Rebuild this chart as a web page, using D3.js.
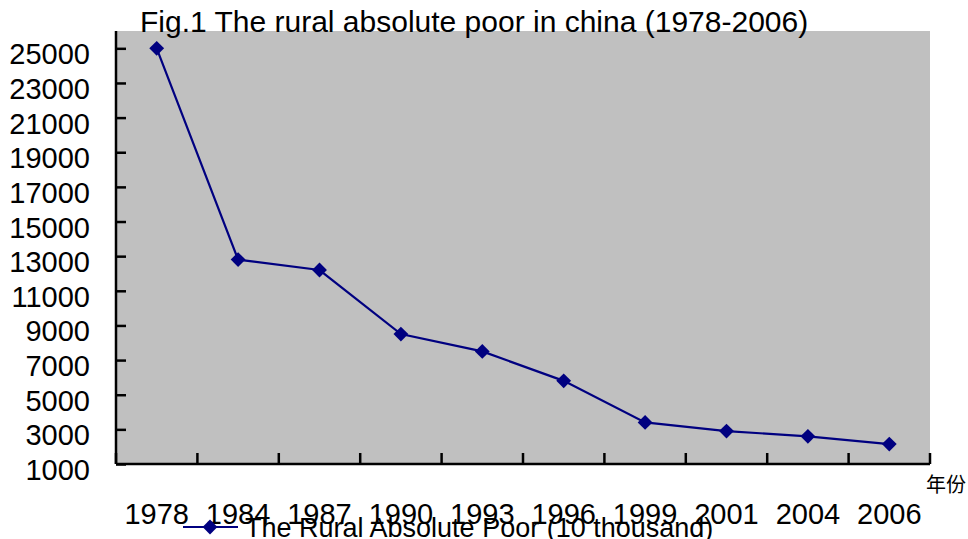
<!DOCTYPE html>
<html>
<head>
<meta charset="utf-8">
<script src="https://cdn.jsdelivr.net/npm/d3@7"></script>
<style>
  body { margin: 0; background: #fff; }
  text { font-family: "Liberation Sans", Arial, sans-serif; }
</style>
</head>
<body>
<svg id="chart" width="968" height="539"></svg>
<script>
// data
const years = ["1978", "1984", "1987", "1990", "1993", "1996", "1999", "2001", "2004", "2006"];
const poor = [25000, 12800, 12200, 8500, 7500, 5800, 3400, 2900, 2600, 2150];
const yTicks = [1000, 3000, 5000, 7000, 9000, 11000, 13000, 15000, 17000, 19000, 21000, 23000, 25000];

const svg = d3.select("#chart");
const plot = { left: 116, right: 930, top: 31, bottom: 464 };

const x = d3.scaleBand().domain(years).range([plot.left, plot.right]);
const y = d3.scaleLinear().domain([1000, 26000]).range([plot.bottom, plot.top]);

// grey plot area
svg.append("rect")
  .attr("x", plot.left)
  .attr("y", plot.top)
  .attr("width", plot.right - plot.left)
  .attr("height", plot.bottom - plot.top)
  .attr("fill", "#c0c0c0");

// title
svg.append("text")
  .attr("x", 140)
  .attr("y", 32)
  .attr("font-size", 30)
  .attr("fill", "#000")
  .text("Fig.1 The rural absolute poor in china (1978-2006)");

// y axis, ticks pointing inward
const yAxis = svg.append("g")
  .attr("transform", `translate(${plot.left},0)`)
  .call(d3.axisRight(y).tickValues(yTicks).tickSize(10).tickFormat(""));
yAxis.select(".domain").attr("d", `M0,${plot.top}V${plot.bottom}`);
yAxis.selectAll("path, line").attr("stroke", "#000").attr("stroke-width", 2.5);

svg.append("g")
  .selectAll("text")
  .data(yTicks)
  .enter()
  .append("text")
  .attr("x", 90)
  .attr("y", (d) => y(d) + 16)
  .attr("text-anchor", "end")
  .attr("font-size", 29)
  .text((d) => d);

// x axis, ticks at category boundaries pointing up
const xEdges = years.map((d) => x(d)).concat([plot.right]);
const xAxis = svg.append("g");
xAxis.append("line")
  .attr("x1", plot.left)
  .attr("x2", plot.right)
  .attr("y1", plot.bottom)
  .attr("y2", plot.bottom)
  .attr("stroke", "#000")
  .attr("stroke-width", 2.5);
xAxis.selectAll("line.tick")
  .data(xEdges)
  .enter()
  .append("line")
  .attr("class", "tick")
  .attr("x1", (d) => d)
  .attr("x2", (d) => d)
  .attr("y1", plot.bottom)
  .attr("y2", plot.bottom - 11)
  .attr("stroke", "#000")
  .attr("stroke-width", 2.5);

svg.append("g")
  .selectAll("text")
  .data(years)
  .enter()
  .append("text")
  .attr("x", (d) => x(d) + x.bandwidth() / 2)
  .attr("y", 524)
  .attr("text-anchor", "middle")
  .attr("font-size", 29)
  .text((d) => d);

svg.append("text")
  .attr("x", 966)
  .attr("y", 492)
  .attr("text-anchor", "end")
  .attr("font-size", 20)
  .style("font-family", "'Noto Sans CJK SC', sans-serif")
  .text("年份");

// series line + diamonds
const line = d3.line()
  .x((d, i) => x(years[i]) + x.bandwidth() / 2)
  .y((d) => y(d));

svg.append("path")
  .datum(poor)
  .attr("d", line)
  .attr("fill", "none")
  .attr("stroke", "#000080")
  .attr("stroke-width", 2.2);

const diamond = d3.symbol().type(d3.symbolDiamond2).size(140);
svg.append("g")
  .selectAll("path")
  .data(poor)
  .enter()
  .append("path")
  .attr("d", diamond)
  .attr("transform", (d, i) => `translate(${x(years[i]) + x.bandwidth() / 2},${y(d)})`)
  .attr("fill", "#000080");

// legend
const legend = svg.append("g").attr("transform", "translate(183,527)");
legend.append("line")
  .attr("x1", 0)
  .attr("x2", 55)
  .attr("stroke", "#000080")
  .attr("stroke-width", 2.2);
legend.append("path")
  .attr("d", diamond)
  .attr("transform", "translate(27,0)")
  .attr("fill", "#000080");
legend.append("text")
  .attr("x", 62)
  .attr("y", 10)
  .attr("font-size", 27)
  .attr("fill", "#000")
  .text("The Rural Absolute Poor (10 thousand)");
</script>
</body>
</html>
